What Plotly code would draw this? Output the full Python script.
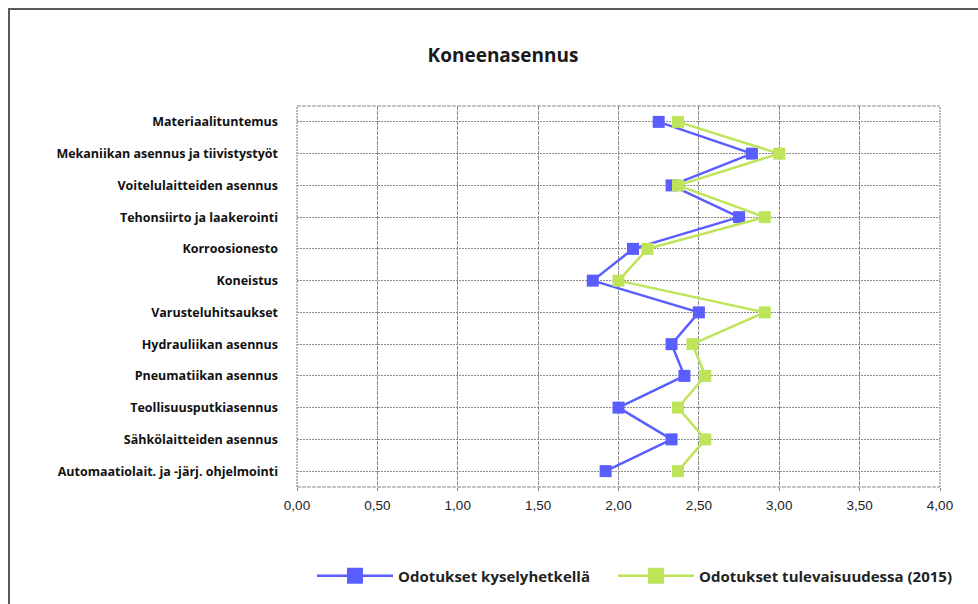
import plotly.graph_objects as go

# Skill areas (top to bottom) and the two expectation series
categories = [
    "Materiaalituntemus",
    "Mekaniikan asennus ja tiivistystyöt",
    "Voitelulaitteiden asennus",
    "Tehonsiirto ja laakerointi",
    "Korroosionesto",
    "Koneistus",
    "Varusteluhitsaukset",
    "Hydrauliikan asennus",
    "Pneumatiikan asennus",
    "Teollisuusputkiasennus",
    "Sähkölaitteiden asennus",
    "Automaatiolait. ja -järj. ohjelmointi",
]
nykyhetki = [2.25, 2.83, 2.33, 2.75, 2.09, 1.84, 2.50, 2.33, 2.41, 2.00, 2.33, 1.92]
tulevaisuus = [2.37, 3.00, 2.37, 2.91, 2.18, 2.00, 2.91, 2.46, 2.54, 2.37, 2.54, 2.37]
series_names = ["Odotukset kyselyhetkellä", "Odotukset tulevaisuudessa (2015)"]

x_ticks = [0, 0.5, 1.0, 1.5, 2.0, 2.5, 3.0, 3.5, 4.0]
x_ticktext = ["0,00", "0,50", "1,00", "1,50", "2,00", "2,50", "3,00", "3,50", "4,00"]

BLUE = "#5B5EFF"
GREEN = "#BEE55A"
GRID = "#8a8a8a"
SANS = "'Open Sans', 'Noto Sans', sans-serif"

fig = go.Figure()
for values, name, color, leg in [
    (nykyhetki, series_names[0], BLUE, "legend"),
    (tulevaisuus, series_names[1], GREEN, "legend2"),
]:
    # data series
    fig.add_trace(go.Scatter(
        x=values, y=categories, mode="lines+markers", name=name,
        line=dict(color=color, width=2.5),
        marker=dict(symbol="square", size=12, color=color),
        showlegend=False, legendgroup=name,
    ))
    # legend key with a larger marker
    fig.add_trace(go.Scatter(
        x=[None], y=[None], mode="lines+markers", name="<b>%s</b>" % name,
        line=dict(color=color, width=2.5),
        marker=dict(symbol="square", size=21, color=color),
        legend=leg, showlegend=True, legendgroup=name, hoverinfo="skip",
    ))

legend_font = dict(family=SANS, size=15, color="#222222")
legend_y = (487 - 576) / 381

fig.update_layout(
    width=978, height=604,
    margin=dict(l=297, r=38, t=106, b=117),
    paper_bgcolor="white", plot_bgcolor="white",
    showlegend=True,
    title=dict(
        text="<b>Koneenasennus</b>",
        x=503 / 978, xanchor="center", y=1 - 55 / 604, yanchor="middle",
        font=dict(family=SANS, size=19, color="#1a1a1a"),
    ),
    xaxis=dict(
        range=[0, 4], tickvals=x_ticks, ticktext=x_ticktext,
        showgrid=True, gridcolor=GRID, gridwidth=1, griddash="4px,1px",
        zeroline=False, showline=False,
        ticks="outside", ticklen=3, tickcolor=GRID, ticklabelstandoff=3,
        tickfont=dict(family="'Liberation Sans', Arial, sans-serif", size=13.5, color="#222222"),
    ),
    yaxis=dict(
        type="category", categoryorder="array", categoryarray=categories,
        tickvals=categories, ticktext=["<b>%s</b>" % c for c in categories],
        range=[11.5, -0.5],
        showgrid=True, gridcolor=GRID, gridwidth=1, griddash="2px,1px",
        zeroline=False, showline=False, ticks="", ticklabelstandoff=18,
        tickfont=dict(family=SANS, size=12.5, color="#111111"),
    ),
    legend=dict(
        orientation="h", x=(312 - 297) / 643, xanchor="left",
        y=legend_y, yanchor="middle", itemwidth=76,
        font=legend_font, bgcolor="rgba(0,0,0,0)",
    ),
    legend2=dict(
        orientation="h", x=(613 - 297) / 643, xanchor="left",
        y=legend_y, yanchor="middle", itemwidth=76,
        font=legend_font, bgcolor="rgba(0,0,0,0)",
    ),
    shapes=[
        # frame around the plotting area: dashed top/bottom, dotted sides
        dict(type="line", xref="paper", yref="paper", x0=0, x1=1, y0=1, y1=1,
             line=dict(color=GRID, width=1.2, dash="4px,1px"), layer="above"),
        dict(type="line", xref="paper", yref="paper", x0=0, x1=1, y0=0, y1=0,
             line=dict(color=GRID, width=1.2, dash="4px,1px"), layer="above"),
        dict(type="line", xref="paper", yref="paper", x0=0, x1=0, y0=0, y1=1,
             line=dict(color=GRID, width=1.2, dash="2px,1px"), layer="above"),
        dict(type="line", xref="paper", yref="paper", x0=1, x1=1, y0=0, y1=1,
             line=dict(color=GRID, width=1.2, dash="2px,1px"), layer="above"),
        # outer chart border
        dict(type="rect", xref="paper", yref="paper",
             x0=(9 - 297) / 643, x1=(990 - 297) / 643,
             y0=(487 - 620) / 381, y1=(487 - 9) / 381,
             line=dict(color="#5a5a5a", width=2)),
    ],
)

fig.write_html("out.html")
